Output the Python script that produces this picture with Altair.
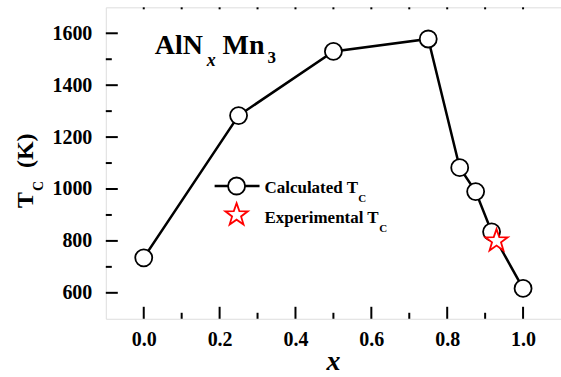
import altair as alt
import pandas as pd

# ---- data ----
x_calc = [0.0, 0.25, 0.5, 0.75, 0.833, 0.875, 0.917, 1.0]
tc_calc = [735, 1283, 1530, 1578, 1082, 990, 835, 617]
x_exp = [0.93]
tc_exp = [800]

x_major = [0.0, 0.2, 0.4, 0.6, 0.8, 1.0]
x_minor = [0.1, 0.3, 0.5, 0.7, 0.9]
y_major = [600, 800, 1000, 1200, 1400, 1600]
y_minor = [700, 900, 1100, 1300, 1500]

FONT = "'Liberation Serif', 'Times New Roman', 'DejaVu Serif', serif"
W, H = 456, 312

calc = pd.DataFrame({"x": x_calc, "tc": tc_calc})
exp = pd.DataFrame({"x": x_exp, "tc": tc_exp})

xs = alt.Scale(domain=[-0.1, 1.1], nice=False, zero=False)
ys = alt.Scale(domain=[500, 1700], nice=False, zero=False)

STAR = ("M0,-1L0.235,-0.324L0.951,-0.309L0.380,0.124L0.588,0.809L0,0.4"
        "L-0.588,0.809L-0.380,0.124L-0.951,-0.309L-0.235,-0.324Z")

xaxis = alt.Axis(values=x_major, format=".1f", tickSize=0, domain=False, grid=False,
                 labelFont=FONT, labelFontSize=20, labelFontWeight="bold", labelColor="black",
                 labelPadding=11, title=None)
yaxis = alt.Axis(values=y_major, format="d", tickSize=0, domain=False, grid=False,
                 labelFont=FONT, labelFontSize=20, labelFontWeight="bold", labelColor="black",
                 labelPadding=14, title=None)

line = alt.Chart(calc).mark_line(color="black", strokeWidth=2.5).encode(
    x=alt.X("x:Q", scale=xs, axis=xaxis),
    y=alt.Y("tc:Q", scale=ys, axis=yaxis),
)
pts = alt.Chart(calc).mark_point(shape="circle", filled=True, fill="white", stroke="black",
                                 strokeWidth=1.8, size=290, opacity=1).encode(
    x=alt.X("x:Q", scale=xs), y=alt.Y("tc:Q", scale=ys))
star = alt.Chart(exp).mark_point(shape=STAR, filled=True, fill="white", stroke="red",
                                 strokeWidth=1.8, size=560, opacity=1).encode(
    x=alt.X("x:Q", scale=xs), y=alt.Y("tc:Q", scale=ys))

# ticks (inward)
def xticks(vals, y0, y1):
    return alt.Chart(pd.DataFrame({"v": vals})).mark_rule(color="black", strokeWidth=2).encode(
        x=alt.X("v:Q", scale=xs), y=alt.value(y0), y2=alt.value(y1))

def yticks(vals, x0, x1):
    return alt.Chart(pd.DataFrame({"v": vals})).mark_rule(color="black", strokeWidth=2).encode(
        y=alt.Y("v:Q", scale=ys), x=alt.value(x0), x2=alt.value(x1))

ticks = [
    xticks(x_major, H, H - 12), xticks(x_minor, H, H - 6),
    xticks(x_major + x_minor, 0, 2),
    yticks(y_major, 0, 12), yticks(y_minor, 0, 6),
]

def txt(s, x, y, size, style="normal", color="black", angle=0, align="left"):
    return alt.Chart(pd.DataFrame({"t": [s]})).mark_text(
        font=FONT, fontSize=size, fontWeight="bold", fontStyle=style, color=color,
        align=align, baseline="alphabetic", angle=angle).encode(
        text="t:N", x=alt.value(x), y=alt.value(y))

# legend pieces
legend_line = alt.Chart(pd.DataFrame({"a": [0]})).mark_rule(color="black", strokeWidth=2.5).encode(
    x=alt.value(109), x2=alt.value(154), y=alt.value(179))
legend_circ = alt.Chart(pd.DataFrame({"a": [0]})).mark_point(
    shape="circle", filled=True, fill="white", stroke="black", strokeWidth=1.8, size=290,
    opacity=1).encode(x=alt.value(131), y=alt.value(179))
legend_star = alt.Chart(pd.DataFrame({"a": [0]})).mark_point(
    shape=STAR, filled=True, fill="white", stroke="red", strokeWidth=1.8, size=560,
    opacity=1).encode(x=alt.value(131), y=alt.value(208))

texts = [
    txt("AlN", 49, 47, 28), txt("x", 101, 59, 18, style="italic"),
    txt("Mn", 117, 47, 28), txt("3", 162, 56, 17),
    txt("Calculated T", 159, 186, 17), txt("C", 253, 195, 11),
    txt("Experimental T", 159, 216, 17), txt("C", 274, 225, 11),
    txt("T", -73, 201, 24, angle=270), txt("C", -63, 184, 14, angle=270),
    txt("(K)", -73, 161, 24, angle=270),
    txt("x", 228, 363, 28, style="italic", align="center"),
]

chart = alt.layer(line, pts, star, *ticks, legend_line, legend_circ, legend_star, *texts).properties(
    width=W, height=H, autosize=alt.AutoSizeParams(type="none"),
    padding={"left": 106, "top": 7, "right": 0, "bottom": 58},
).configure_view(stroke="black", strokeWidth=2).configure(background="white")

chart.save("out.html", embed_options={"renderer": "svg", "actions": False})
